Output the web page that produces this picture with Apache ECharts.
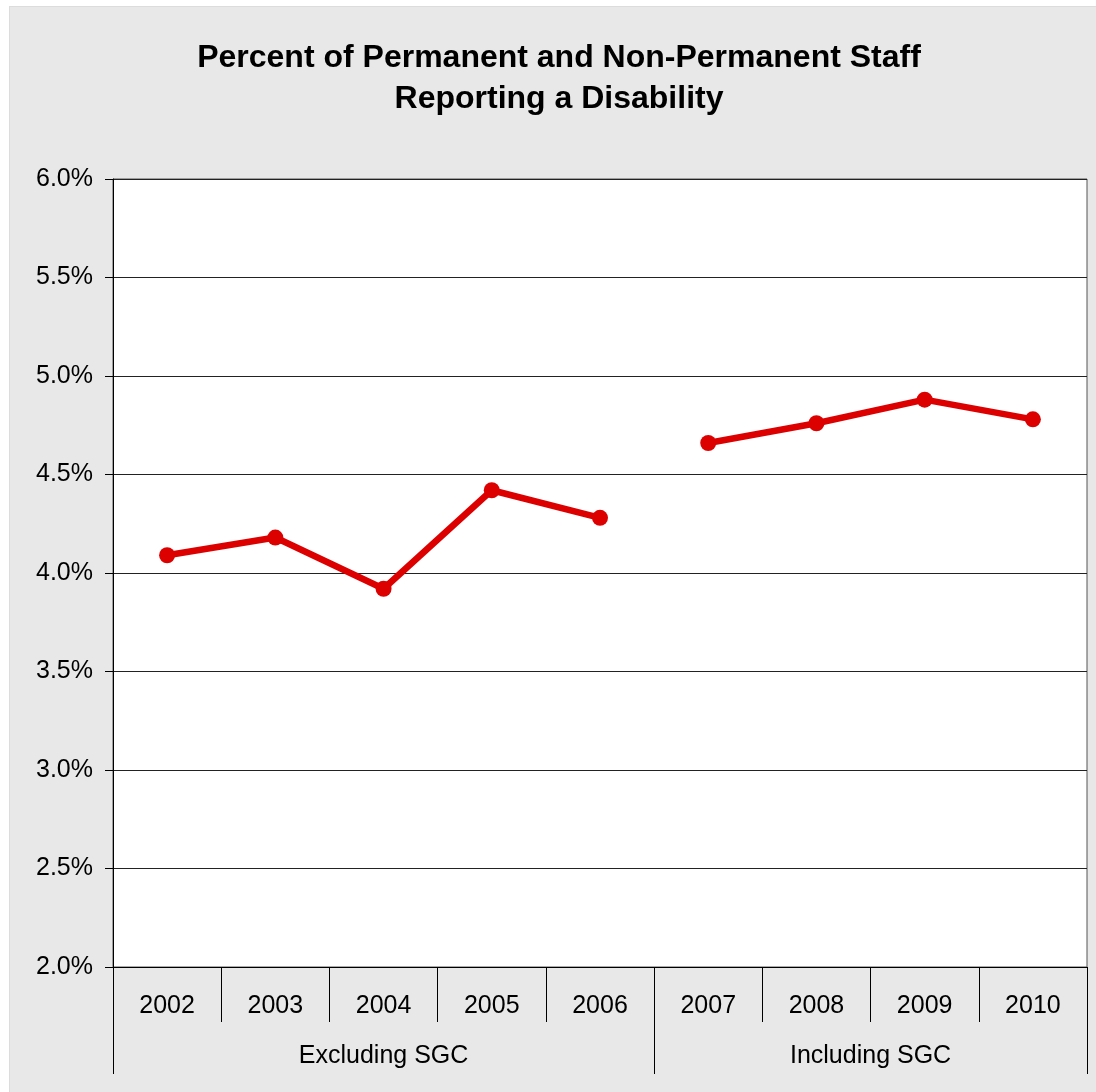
<!DOCTYPE html>
<html>
<head>
<meta charset="utf-8">
<title>Percent of Permanent and Non-Permanent Staff Reporting a Disability</title>
<script src="https://cdn.jsdelivr.net/npm/echarts@6/dist/echarts.min.js"></script>
<style>
  html, body { margin: 0; padding: 0; background: #ffffff; }
  #frame {
    position: absolute; left: 9px; top: 6px; width: 1087px; height: 1086px;
    background: #e8e8e8; box-sizing: border-box; border-left: 1px solid #dcdcdc; border-top: 1px solid #dcdcdc;
  }
  #chart { position: absolute; left: -9px; top: -6px; width: 1096px; height: 1092px; }
</style>
</head>
<body>
<div id="frame"><div id="chart"></div></div>
<script>
// Survey years, grouped by whether SGC staff are counted
const years = ['2002', '2003', '2004', '2005', '2006', '2007', '2008', '2009', '2010'];
const groups = ['Excluding SGC', 'Including SGC'];
const groupBounds = [0, 5, 9];      // category boundaries of each group
const groupCentres = [2.5, 7];      // where each group name sits

// Percent of staff reporting a disability ('-' = not part of that segment)
const excludingSGC = [4.09, 4.18, 3.92, 4.42, 4.28, '-', '-', '-', '-'];
const includingSGC = ['-', '-', '-', '-', '-', 4.66, 4.76, 4.88, 4.78];

// Percent axis ticks
const yMin = 2.0, yMax = 6.0, yStep = 0.5;

const FONT = '"Liberation Sans", Arial, sans-serif';
const RED = '#dd0000';

const lineSeries = (name, data) => ({
  name: name,
  type: 'line',
  xAxisIndex: 0,
  data: data,
  symbol: 'circle',
  symbolSize: 16,
  lineStyle: { color: RED, width: 6.5 },
  itemStyle: { color: RED },
  connectNulls: false,
  animation: false,
  z: 5
});

const chart = echarts.init(document.getElementById('chart'), null, { renderer: 'canvas' });
chart.setOption({
  backgroundColor: 'transparent',
  animation: false,
  title: {
    text: 'Percent of Permanent and Non-Permanent Staff\nReporting a Disability',
    left: 553,
    top: 32,
    textAlign: 'center',
    textStyle: {
      fontFamily: FONT, fontSize: 32, fontWeight: 'bold', color: '#000', lineHeight: 41
    }
  },
  grid: {
    left: 112, right: 10, top: 178, bottom: 126,
    show: true, backgroundColor: '#ffffff', borderColor: '#555', borderWidth: 1,
    containLabel: false
  },
  xAxis: [
    {
      type: 'category',
      data: years,
      boundaryGap: true,
      position: 'bottom',
      axisLine: { show: true, lineStyle: { color: '#000', width: 1 } },
      axisTick: { show: true, alignWithLabel: false, length: 55, lineStyle: { color: '#000', width: 1 } },
      axisLabel: { fontFamily: FONT, fontSize: 25, color: '#000', margin: 27 },
      splitLine: { show: false }
    },
    {
      type: 'value',
      min: 0, max: 9,
      position: 'bottom',
      axisLine: { show: false },
      axisTick: { show: true, length: 107, customValues: groupBounds, lineStyle: { color: '#000', width: 1 } },
      axisLabel: {
        fontFamily: FONT, fontSize: 25, color: '#000', margin: 77,
        customValues: groupCentres,
        formatter: v => groups[groupCentres.indexOf(v)]
      },
      splitLine: { show: false }
    }
  ],
  yAxis: {
    type: 'value',
    min: yMin, max: yMax, interval: yStep,
    axisLine: { show: true, lineStyle: { color: '#000', width: 1 } },
    axisTick: { show: true, length: 8, lineStyle: { color: '#000', width: 1 } },
    axisLabel: {
      fontFamily: FONT, fontSize: 25, color: '#000', margin: 20,
      formatter: v => v.toFixed(1) + '%'
    },
    splitLine: { show: true, lineStyle: { color: '#222', width: 1 } }
  },
  series: [
    lineSeries('Excluding SGC', excludingSGC),
    lineSeries('Including SGC', includingSGC)
  ]
});
</script>
</body>
</html>
